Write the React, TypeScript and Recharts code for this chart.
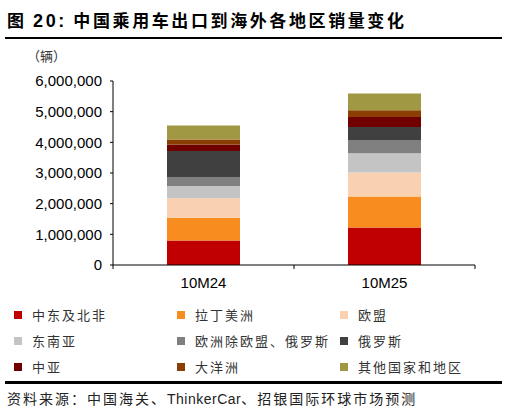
import React from 'react';
import { BarChart, Bar, XAxis, YAxis } from 'recharts';

// 10M = Jan–Oct cumulative exports
const categories = ['10M24', '10M25'];

const middleEastNA = [800000, 1220000];
const latinAmerica = [740000, 1010000];
const eu = [640000, 790000];
const seAsia = [400000, 620000];
const europeOther = [290000, 420000];
const russia = [850000, 440000];
const centralAsia = [210000, 330000];
const oceania = [160000, 220000];
const others = [460000, 540000];

const yTicks = [0, 1000000, 2000000, 3000000, 4000000, 5000000, 6000000];

const SERIES = [
  { key: 'mena', name: '中东及北非', color: '#C00000', values: middleEastNA },
  { key: 'latam', name: '拉丁美洲', color: '#F98C1F', values: latinAmerica },
  { key: 'eu', name: '欧盟', color: '#F9D0B0', values: eu },
  { key: 'sea', name: '东南亚', color: '#C4C4C4', values: seAsia },
  { key: 'euo', name: '欧洲除欧盟、俄罗斯', color: '#808080', values: europeOther },
  { key: 'ru', name: '俄罗斯', color: '#404040', values: russia },
  { key: 'ca', name: '中亚', color: '#700000', values: centralAsia },
  { key: 'oc', name: '大洋洲', color: '#8A3E03', values: oceania },
  { key: 'oth', name: '其他国家和地区', color: '#A09843', values: others },
];

const data = categories.map((c, i) => {
  const row: Record<string, number | string> = { name: c, pos: i + 0.5 };
  SERIES.forEach((s) => { row[s.key] = s.values[i]; });
  return row;
});

const LATIN = '"Liberation Sans", Arial, sans-serif';
const CJK = '"Noto Sans CJK SC", "Noto Sans", sans-serif';
const X_TICK = 4;
const X_GAP = 8;

// integer positions get a tick mark (category edges), half positions get the label
function XTick(props: any) {
  const { x, y, payload } = props;
  const v = payload.value;
  if (Number.isInteger(v)) {
    return <line x1={x} x2={x} y1={y - X_GAP - X_TICK} y2={y - X_GAP} stroke="#000" />;
  }
  return (
    <text x={x} y={y} dy="0.71em" textAnchor="middle" fontSize={15} fontFamily={LATIN} fill="#000">
      {categories[Math.floor(v)]}
    </text>
  );
}

const legendCols = [14, 177, 340];
const legendRows = [315, 341, 366.5];

export default function App() {
  return (
    <div style={{ position: 'absolute', top: 0, left: 0, width: 508, height: 415, background: '#fff', fontFamily: CJK }}>
      <div style={{ position: 'absolute', left: 7, top: 8, fontSize: 17, fontWeight: 700, letterSpacing: 2.6, color: '#000', whiteSpace: 'nowrap', lineHeight: '24px' }}>
        图 <span style={{ fontFamily: LATIN, fontSize: 18 }}>20:</span> 中国乘用车出口到海外各地区销量变化
      </div>
      <div style={{ position: 'absolute', left: 5, top: 36.5, width: 497, height: 2.5, background: '#000' }} />

      <div style={{ position: 'absolute', left: 27, top: 47, fontSize: 13, color: '#333', whiteSpace: 'nowrap', lineHeight: '18px' }}>
        （辆）
      </div>

      <div style={{ position: 'absolute', left: 0, top: 0 }}>
        <BarChart width={508} height={300} data={data} margin={{ top: 81, right: 33, bottom: 5, left: 0 }}>
          <XAxis
            dataKey="pos"
            type="number"
            domain={[0, 2]}
            ticks={[0, 0.5, 1, 1.5, 2]}
            interval={0}
            height={30}
            tickLine={false}
            tickSize={X_TICK}
            tickMargin={X_GAP}
            tick={<XTick />}
            axisLine={{ stroke: '#000' }}
          />
          <YAxis
            width={113}
            domain={[0, 6000000]}
            ticks={yTicks}
            interval={0}
            tickSize={3}
            tickMargin={8}
            tickFormatter={(v: number) => v.toLocaleString('en-US')}
            tick={{ fontSize: 15, fontFamily: LATIN, fill: '#000' }}
            axisLine={{ stroke: '#000' }}
            tickLine={{ stroke: '#000' }}
          />
          {SERIES.map((s) => (
            <Bar key={s.key} dataKey={s.key} name={s.name} stackId="a" fill={s.color} barSize={73} isAnimationActive={false} />
          ))}
        </BarChart>
      </div>

      {SERIES.map((s, i) => {
        const left = legendCols[i % 3];
        const cy = legendRows[Math.floor(i / 3)];
        return (
          <div key={s.key} style={{ position: 'absolute', left, top: cy - 9, height: 18, display: 'flex', alignItems: 'center', whiteSpace: 'nowrap' }}>
            <span style={{ width: 8, height: 8, background: s.color, display: 'inline-block', marginRight: 10 }} />
            <span style={{ fontSize: 13, letterSpacing: 2, color: '#333', lineHeight: '18px' }}>{s.name}</span>
          </div>
        );
      })}

      <div style={{ position: 'absolute', left: 5, top: 381, width: 497, height: 3, background: '#000' }} />
      <div style={{ position: 'absolute', left: 7, top: 388, fontSize: 14, letterSpacing: 2, color: '#222', whiteSpace: 'nowrap', lineHeight: '20px' }}>
        资料来源：中国海关、<span style={{ fontFamily: LATIN, letterSpacing: 0.5 }}>ThinkerCar</span>、招银国际环球市场预测
      </div>
    </div>
  );
}
